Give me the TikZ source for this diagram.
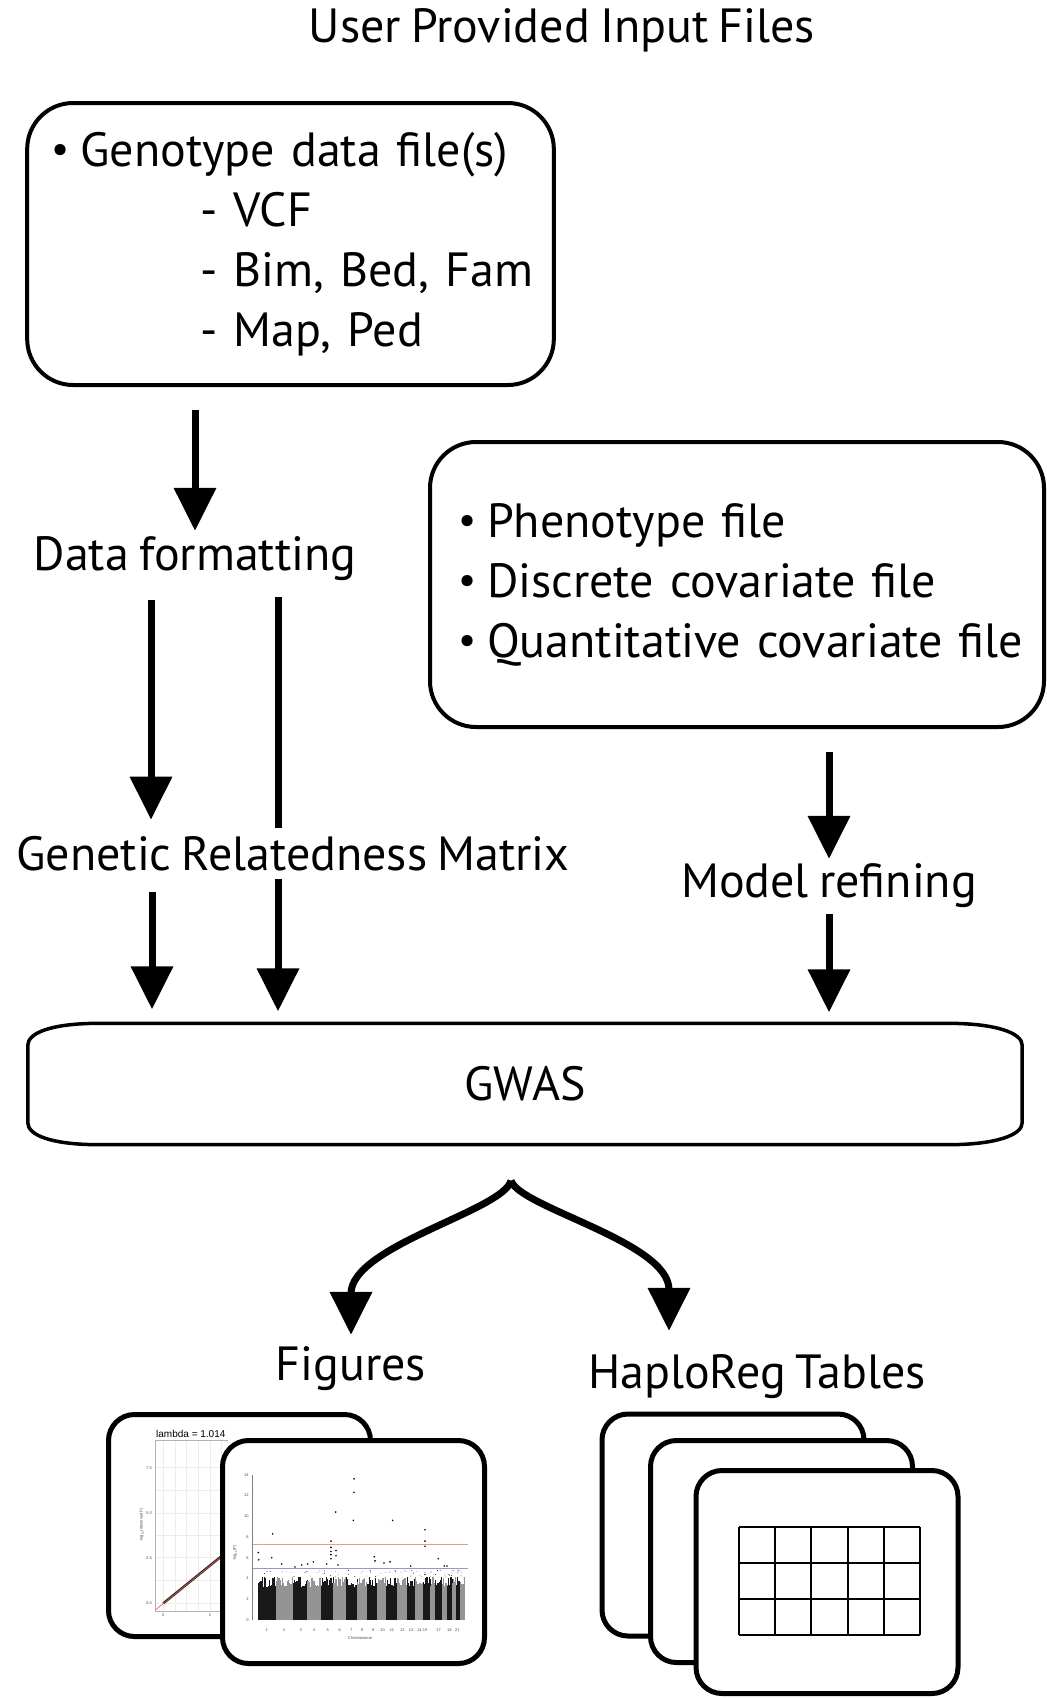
\documentclass[tikz,border=0pt]{standalone}
\usepackage{fontspec}
\setmainfont{PT Sans}[WordSpace=0.8]
\newfontfamily\plotfont{Liberation Sans}
\usetikzlibrary{arrows.meta,calc}

\definecolor{sigred}{RGB}{238,150,140}
\definecolor{sugblue}{RGB}{150,150,210}
\definecolor{qqred}{RGB}{230,90,70}
\newcommand{\bigtext}{\fontsize{48pt}{60pt}\selectfont}
\newcommand{\plottext}{\fontsize{4pt}{4pt}\selectfont\plotfont}
\newcommand{\itembul}{\raisebox{3.5pt}{\fontsize{40pt}{40pt}\selectfont•}\kern11pt}

\begin{document}
\begin{tikzpicture}[
  x=1pt, y=-1pt,
  >={Triangle[width=41pt,length=43pt]},
  arr/.style={->, line width=7pt},
  inbox/.style={draw, line width=4pt, rounded corners=46pt, align=left, font=\bigtext},
  lbl/.style={font=\bigtext, anchor=base, inner sep=0pt},
  card/.style={draw, fill=white, line width=5pt, rounded corners=26pt,
    minimum width=262pt, minimum height=222pt},
  ticklbl/.style={font=\plottext, inner sep=0pt, text=black!70},
  gridline/.style={line width=2pt}
]
  \useasboundingbox (0,0) rectangle (1047,1698);

  % inputs
  \node[lbl] (title) at (562,42) {User Provided Input Files};
  \node[inbox, text width=520pt, minimum width=525pt, minimum height=282pt] (geno) at (290.5,244)
    {\hspace*{21pt}\itembul Genotype data file(s)\\
     \hspace*{170pt}- VCF\\
     \hspace*{170pt}- Bim, Bed, Fam\\
     \hspace*{170pt}- Map, Ped};
  \node[inbox, text width=600pt, minimum width=614pt, minimum height=285pt] (pheno) at (737,584.5)
    {\hspace*{21pt}\itembul Phenotype file\\
     \hspace*{21pt}\itembul Discrete covariate file\\
     \hspace*{21pt}\itembul Quantitative covariate file};

  \node[lbl] (fmt) at (195,570) {Data formatting};
  \node[lbl] (model) at (829,897) {Model refining};
  \node[font=\bigtext, inner sep=0pt, minimum width=994pt, minimum height=121pt] (gwas) at (525,1084) {GWAS};

  \draw[line width=3.5pt] ($(gwas.north west)+(72,0)$) -- ($(gwas.north east)+(-75,0)$)
    .. controls +(50,0) and +(0,-12) .. ($(gwas.north east)+(0,22)$)
    -- ($(gwas.south east)+(0,-22)$)
    .. controls +(0,12) and +(50,0) .. ($(gwas.south east)+(-75,0)$)
    -- ($(gwas.south west)+(72,0)$)
    .. controls +(-50,0) and +(0,12) .. ($(gwas.south west)+(0,-22)$)
    -- ($(gwas.north west)+(0,22)$)
    .. controls +(0,-12) and +(-50,0) .. ($(gwas.north west)+(72,0)$) -- cycle;

  % formatted genotypes go straight to GWAS, behind the GRM label
  \draw[arr, shorten <=17pt, shorten >=12pt] ([xshift=83pt]fmt.south) -- ([xshift=83pt]fmt.south |- gwas.north);
  \node[lbl, fill=white, inner xsep=2pt, inner ysep=8pt] (grm) at (293,870) {Genetic Relatedness Matrix};

  \draw[arr, shorten <=23pt, shorten >=5pt] (fmt.north |- geno.south) -- (fmt.north);
  \draw[arr, shorten <=20pt, shorten >=8pt] ([xshift=-44pt]fmt.south) -- ([xshift=-44pt]fmt.south |- grm.north);
  \draw[arr, shorten <=13pt, shorten >=14pt] ([xshift=-43pt]fmt.south |- grm.south) -- ([xshift=-43pt]fmt.south |- gwas.north);
  \draw[arr, shorten <=23pt, shorten >=4pt] (model.north |- pheno.south) -- (model.north);
  \draw[arr, shorten <=7pt, shorten >=11pt] (model.south) -- (model.south |- gwas.north);

  % outputs
  \node[lbl] (figs) at (351,1380) {Figures};
  \node[lbl] (tables) at (757,1388) {HaploReg Tables};
  \coordinate (split) at ($(gwas.south)+(-14,36)$);
  \draw[arr, shorten >=11pt] (split) .. controls +(-8,30) and +(0,-100) .. (figs.north);
  \draw[arr, shorten >=23pt] (split) .. controls +(9,27) and +(0,-112) .. ($(tables.north)+(-88,0)$);

  % qq plot card
  \node[card] (qqcard) at (239.5,1525.5) {};
  \foreach \gx in {163.3,175,186.7,198.3,210,221.7}
    \draw[black!7, line width=0.6pt] (\gx,1440.7) -- (\gx,1611);
  \foreach \gy in {1467.7,1490.5,1513.3,1535.5,1557.7,1580.5,1603.3}
    \draw[black!7, line width=0.6pt] (155.3,\gy) -- (228,\gy);
  \draw[black!30, line width=0.5pt] (228,1440.7) -- (155.3,1440.7) -- (155.3,1611) -- (228,1611);
  \draw[black!85, line width=2.4pt] (163.3,1603.3) -- (228,1550.9);
  \draw[qqred, line width=0.6pt] (155.3,1610) -- (228,1551.1);
  \node[anchor=base west, font=\fontsize{10pt}{10pt}\selectfont\plotfont, inner sep=0pt] (qqtitle) at (156,1437) {lambda = 1.014};
  \foreach \ty/\tv [count=\i] in {1467.7/7.5,1513.3/5.0,1557.7/2.5,1603.3/0.0}
    \node[ticklbl, anchor=east] (qy\i) at (152,\ty) {\tv};
  \node[ticklbl] (qx1) at (163.3,1615.5) {0};
  \node[ticklbl] (qx2) at (210,1615.5) {2};
  \node[ticklbl, rotate=90] (qylab) at (141.7,1525) {-log\textsubscript{10}(observed P)};

  % manhattan plot card
  \node[card, minimum height=223pt] (mancard) at (353.5,1552) {};
  \begin{scope}[shift={(251.7,1620)}, y=10.38pt]
    \pgfmathsetseed{12}
    \foreach \a/\b [count=\i] in {6.3/24.3,24.3/41,41/55.6,55.6/69,69/81.6,81.6/94,94/105,
        105/115.6,115.6/125,125/134.3,134.3/145,145/155,155/163.3,163.3/171,171/178.3,
        178.3/183.3,183.3/190,190/195,195/200,200/204.3,204.3/208.3,208.3/212.3} {
      \pgfmathsetmacro\tone{mod(\i,2)==1 ? 90 : 42}
      \fill[black!\tone] (\a,0) rectangle (\b,3.1);
      \pgfmathsetmacro\nb{int((\b-\a)/1.2)}
      \foreach \k in {0,...,\nb} {
        \pgfmathsetmacro\xx{\a+1.2*\k}
        \pgfmathsetmacro\xe{min(\xx+1.2,\b)}
        \pgfmathsetmacro\hh{3.2+1.0*rnd}
        \fill[black!\tone] (\xx,0) rectangle (\xe,\hh);
      }
      \foreach \k in {1,2,3} {
        \pgfmathsetmacro\dx{\a+(\b-\a)*rnd}
        \pgfmathsetmacro\dv{4.1+0.7*rnd}
        \fill[black!\tone] (\dx,\dv) circle[radius=0.5pt];
      }
    }
    \foreach \px/\pv in {6.6/6.5,7/5.8,21/8.3,20/6.0,30/5.4,43.3/5.1,50/5.3,56/5.4,61.6/5.6,
        75/5.4,79.3/7.6,79.3/7.0,79.3/6.6,79.3/6.3,79.3/5.9,84/10.4,84.3/6.7,84.3/6.2,86.3/5.3,
        102.3/13.6,102.3/12.3,101.6/9.6,122.6/6.1,123.3/5.7,132.3/5.5,138.3/5.6,141/9.6,
        159/5.2,173.3/8.7,173.3/7.6,173.3/7.1,186.6/5.9,192.6/5.2,195.3/5.2}
      \fill[black] (\px,\pv) circle[radius=0.9pt];
    \draw[sigred, line width=0.6pt] (0,7.3) -- (216,7.3);
    \draw[sugblue, line width=0.6pt] (0,5) -- (216,5);
    \draw[black!50, line width=0.3pt] (0,0) -- (0,14);
    \foreach \v in {0,2,...,14}
      \node[ticklbl, anchor=east] (my\v) at (-3,\v) {\v};
    \foreach \n/\p in {1/15,2/32.6,3/49,4/62.3,5/76,6/88,7/99.6,8/110.6,9/121.6,10/131,11/140.3,
        12/150.6,13/159.3,14/167.6,15/173.3,17/187,19/197.6,21/205.6}
      \node[ticklbl] (mx\n) at (\p,-0.95) {\n};
    \node[ticklbl] (mxlab) at (108.3,-1.75) {Chromosome};
    \node[ticklbl, rotate=90] (mylab) at (-16.7,6.45) {-log\textsubscript{10}(P)};
  \end{scope}

  % haploreg table cards
  \node[card] (tabA) at (733,1525) {};
  \node[card] (tabB) at (781.5,1551.5) {};
  \node[card, minimum height=223pt] (tabC) at (827,1582) {};
  \foreach \c in {0,...,5}
    \draw[gridline] ($(tabC.center)+({-88+36.2*\c},-55)$) -- +(0,108);
  \foreach \r in {0,...,3}
    \draw[gridline] ($(tabC.center)+(-88,{-55+36*\r})$) -- +(181,0);
\end{tikzpicture}
\end{document}
